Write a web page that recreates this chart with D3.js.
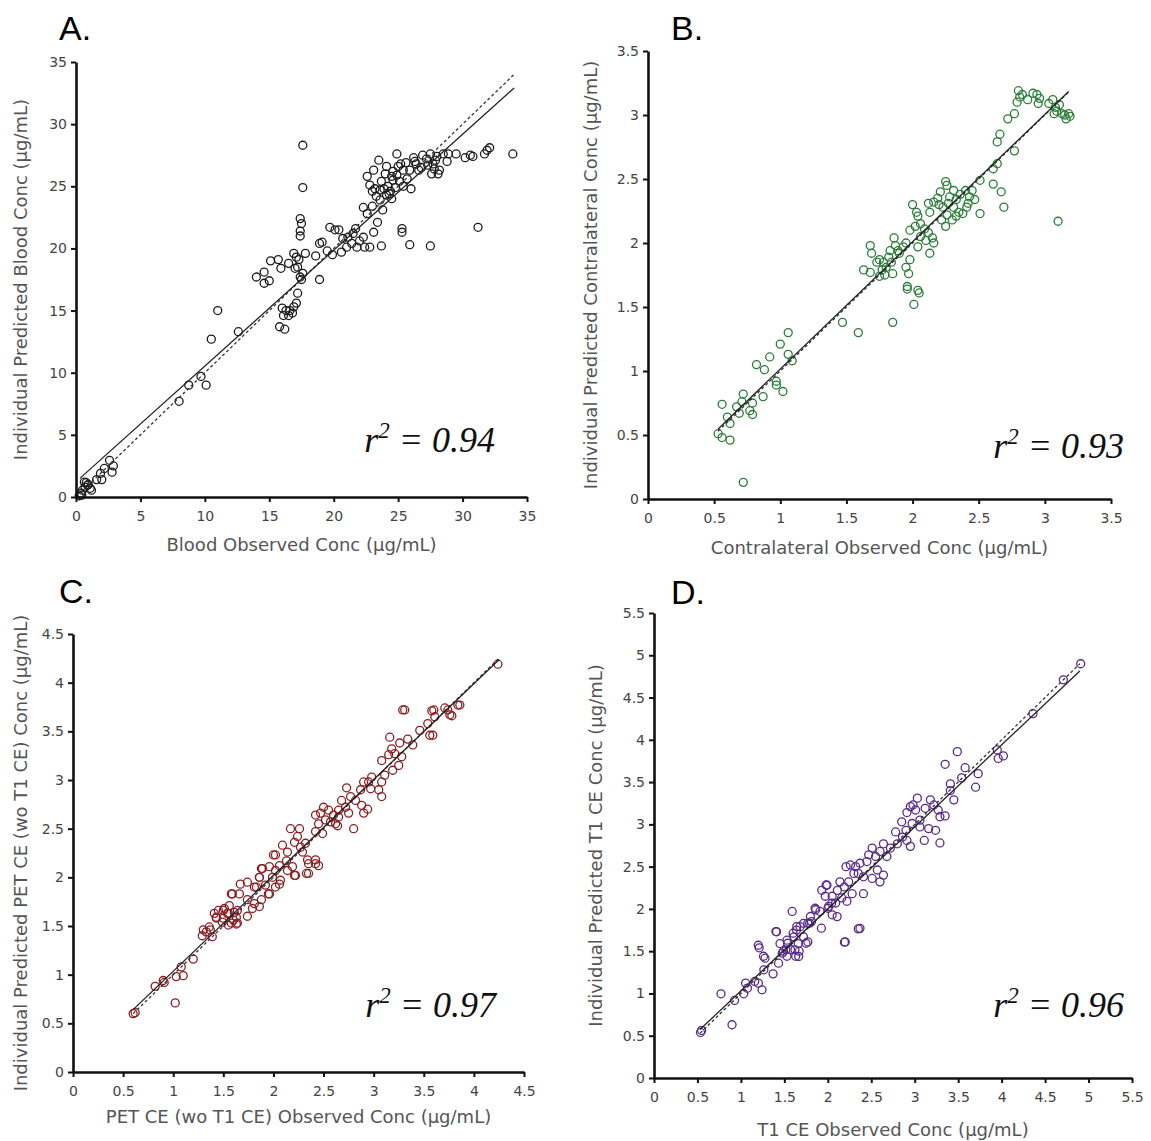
<!DOCTYPE html>
<html>
<head>
<meta charset="utf-8">
<title>Observed vs individual predicted concentrations</title>
<style>
  body { margin: 0; background: #fff; }
  .tick text { font-family: "DejaVu Sans", Verdana, sans-serif; font-size: 14px; fill: #444; }
  .axis-title { font-family: "DejaVu Sans", Verdana, sans-serif; font-size: 18px; fill: #555; }
  .panel-label { font-family: "Liberation Sans", Arial, sans-serif; font-size: 34px; fill: #000; }
  .r2 { font-family: "Liberation Serif", "Times New Roman", serif; font-style: italic; font-size: 36px; fill: #111; }
</style>
</head>
<body>
<script src="https://cdn.jsdelivr.net/npm/d3@7"></script>
<script>

// ---- data: [observed, individual predicted] ----
var bloodPts = [
  [0.25,0.1],[0.4,0.3],[0.45,0.15],[0.5,0.55],[0.65,1.2],[0.7,0.8],[0.8,1.15],[0.9,0.95],[0.95,1.0],[1.1,0.7],[1.2,0.55],
  [1.6,1.4],[2.0,1.4],[1.9,1.9],[2.2,2.3],[2.6,2.95],[2.9,2.5],[2.8,2.0],
  [8.0,7.7],[8.75,9.0],[9.7,9.7],[10.1,9.0],[10.5,12.7],[11.0,15.0],[12.6,13.3],
  [15.8,13.7],[16.2,13.5],
  [16.0,15.2],[16.3,15.0],[16.6,15.0],[16.9,15.3],[17.1,15.6],[16.1,14.6],[16.5,14.6],[16.8,14.8],[17.2,16.4],
  [14.0,17.7],[14.6,18.1],[14.6,17.2],[15.0,17.4],[15.1,19.0],[15.7,19.1],[15.9,18.4],
  [16.5,18.8],[16.9,19.6],[17.1,19.3],[17.2,18.5],[17.4,17.7],[17.5,17.5],[17.6,18.0],[17.8,19.6],[17.3,19.1],[17.0,18.4],
  [17.6,28.3],[17.6,24.9],[17.4,22.4],[17.5,22.0],[17.4,21.4],[17.4,21.0],
  [18.9,17.5],[18.6,19.4],[18.9,20.4],[19.1,20.5],[19.5,19.8],[19.9,19.5],
  [19.7,21.7],[20.1,21.5],[20.4,21.5],
  [20.6,19.7],[21.0,20.1],[21.1,20.9],[21.5,21.2],[21.7,21.6],[22.0,20.6],[22.3,20.9],[22.4,20.1],[22.8,20.1],[23.1,21.3],[20.7,20.8],[21.4,20.4],[21.8,20.1],
  [23.7,20.2],[25.9,20.3],[27.5,20.2],[25.3,21.6],[25.3,21.3],[31.2,21.7],
  [22.3,23.3],[22.6,22.8],[23.0,23.4],[23.4,22.1],[23.8,23.1],
  [23.5,27.1],[24.9,27.6],[25.2,26.8],[26.2,27.3],[22.6,25.8],[22.8,25.1],[23.0,24.6],[23.3,24.2],[23.6,23.9],[23.7,25.4],
  [24.0,26.0],[24.1,26.6],[24.2,25.0],[24.4,24.6],[24.5,24.0],[24.6,25.5],[24.9,25.9],[25.1,25.4],[25.4,25.0],[25.7,25.6],
  [25.9,26.3],[26.0,24.8],[26.4,26.8],[26.6,26.3],[23.1,26.3],[23.2,24.8],[23.6,24.7],[24.1,24.3],[24.5,25.8],[25.4,26.3],
  [24.3,24.4],[24.8,24.9],[25.0,26.6],[25.6,26.9],[26.3,27.0],[26.8,26.5],[27.3,26.7],[27.8,26.4],[24.6,26.2],[23.9,24.8],
  [26.9,27.5],[27.5,27.6],[27.7,26.8],[27.9,27.1],[28.0,27.4],[28.1,26.0],[28.2,26.3],[27.6,26.0],[28.5,27.6],[28.9,27.6],
  [28.8,27.0],[29.5,27.6],[27.2,27.2],
  [30.2,27.3],[30.6,27.5],[30.8,27.4],[31.7,27.6],[31.9,27.9],[32.1,28.1],[33.9,27.6]
];

var contraPts = [
  [2.80,3.19],[2.81,3.14],[2.83,3.16],[2.79,3.10],[2.87,3.12],[2.91,3.17],[2.94,3.16],[2.96,3.13],[2.95,3.09],[3.03,3.09],
  [3.06,3.12],[3.08,3.06],[3.09,3.03],[3.11,3.08],[3.13,3.01],[3.15,3.00],[3.16,2.97],[3.18,3.01],[3.19,2.99],[3.07,3.01],
  [2.77,3.01],[2.72,2.97],[2.66,2.85],[2.64,2.79],[2.77,2.72],[2.61,2.58],[2.64,2.62],[2.61,2.46],[2.67,2.40],[2.69,2.28],
  [3.10,2.17],[2.51,2.49],[2.51,2.23],[2.45,2.41],
  [2.25,2.48],[2.26,2.45],[2.21,2.40],[2.31,2.41],[2.36,2.38],[2.40,2.41],[2.43,2.36],[2.47,2.34],[2.16,2.32],[2.20,2.30],
  [2.23,2.28],[2.27,2.31],[2.31,2.28],[2.35,2.24],[2.38,2.23],[2.33,2.21],[2.30,2.18],[2.26,2.22],[2.22,2.18],[2.25,2.13],
  [2.33,2.34],[2.41,2.28],[2.12,2.31],[2.13,2.24],[2.42,2.31],[2.28,2.36],[2.19,2.35],
  [2.00,2.30],[2.03,2.24],[2.04,2.21],[2.06,2.15],[2.09,2.11],[2.12,2.08],[2.15,2.04],[2.16,2.00],[2.10,2.02],[2.06,2.05],
  [2.02,2.13],[2.13,1.92],[1.98,2.10],
  [1.68,1.98],[1.69,1.92],[1.75,1.87],[1.78,1.85],[1.82,1.89],[1.86,2.04],[1.87,1.98],[1.89,1.94],[1.90,1.92],[1.93,1.97],
  [1.95,2.00],[1.84,1.85],[1.80,1.81],[1.77,1.79],[1.75,1.74],[1.79,1.75],[1.85,1.76],[1.98,1.87],[1.95,1.81],[1.97,1.76],
  [1.63,1.79],[1.68,1.77],[2.04,1.97],[1.73,1.85],[1.83,1.94],
  [1.96,1.66],[2.04,1.63],
  [1.96,1.64],[2.05,1.61],[2.01,1.52],[1.85,1.38],[1.47,1.38],[1.59,1.30],[1.06,1.30],[1.00,1.21],[0.92,1.11],[1.06,1.13],
  [1.09,1.08],[0.82,1.05],[0.88,1.01],[0.97,0.92],[0.97,0.89],[1.02,0.84],[0.87,0.80],[0.79,0.75],[0.72,0.82],[0.67,0.72],
  [0.71,0.76],[0.69,0.67],[0.77,0.69],[0.79,0.66],[0.56,0.74],[0.60,0.64],[0.62,0.59],[0.53,0.51],[0.56,0.48],[0.62,0.46],
  [0.72,0.13]
];

var petPts = [
  [4.24,4.19],[3.86,3.77],[3.78,3.66],[3.74,3.72],[3.60,3.72],[3.59,3.46],[3.31,3.72],
  [3.29,3.72],[3.58,3.71],[3.71,3.74],[3.84,3.77],[3.76,3.67],[3.61,3.65],[3.54,3.58],[3.46,3.51],[3.56,3.46],
  [3.39,3.36],[3.34,3.42],[3.26,3.38],[3.16,3.44],[3.18,3.32],[3.15,3.26],[3.08,3.20],[3.21,3.27],[3.25,3.15],[3.28,3.24],
  [3.19,3.10],[3.11,3.05],[3.08,2.98],[3.05,2.90],[3.08,2.83],[2.98,3.03],[2.95,2.98],[2.90,2.98],[2.97,2.91],[2.87,2.90],
  [2.73,2.92],[2.77,2.83],[2.82,2.79],[2.88,2.74],[2.94,2.70],[2.90,2.66],[2.68,2.79],[2.72,2.72],[2.75,2.66],[2.65,2.69],
  [2.60,2.64],[2.55,2.69],[2.50,2.72],[2.47,2.66],[2.52,2.59],[2.57,2.57],[2.62,2.55],[2.65,2.62],[2.45,2.55],[2.42,2.47],
  [2.49,2.45],[2.42,2.64],[2.80,2.50],[2.64,2.53],
  [2.17,2.50],[2.26,2.50],[2.24,2.42],[2.21,2.36],[2.27,2.31],[2.32,2.35],[2.29,2.26],[2.34,2.18],[2.42,2.18],[2.45,2.12],
  [2.35,2.04],[2.22,2.02],[2.19,2.11],[2.14,2.07],[2.09,2.33],[2.14,2.26],[2.02,2.23],[2.06,2.12],[1.96,2.11],[1.99,2.00],
  [1.89,2.09],[1.86,2.00],[1.83,1.90],[1.74,1.95],[1.67,1.93],[1.92,1.92],[2.02,1.90],[2.07,1.97],[1.96,1.83],[1.88,1.77],
  [1.81,1.73],[1.74,1.77],[1.66,1.83],[1.59,1.83],[1.56,1.71],[1.51,1.68],[1.45,1.66],[1.43,1.59],[1.50,1.58],[1.55,1.63],
  [1.63,1.59],[1.64,1.53],[1.58,1.53],[1.74,1.60],[1.36,1.49],[1.86,1.70],[1.79,1.68],
  [0.62,0.61],[0.60,0.60],[0.82,0.88],[0.90,0.94],[0.91,0.92],[1.03,0.98],[1.08,1.08],[1.10,0.99],[1.20,1.16],[1.29,1.40],
  [1.33,1.44],[1.37,1.46],[1.39,1.39],[1.30,1.46],[1.41,1.63],[1.43,1.58],[1.49,1.54],[1.55,1.51],[1.50,1.66],[1.54,1.63],
  [1.58,1.83],[1.60,1.56],[1.63,1.52],[1.64,1.66],[1.61,1.64],[1.02,0.71],
  [1.88,2.09],[1.81,1.90],[1.86,2.00],[1.95,1.83],[2.00,2.23],[2.06,1.93],[2.02,2.07],[2.21,2.02],[2.33,2.04],[2.42,2.14],
  [2.13,2.17],[2.35,2.14]
];

var t1Pts = [
  [4.91,4.90],[4.71,4.71],[4.36,4.31],
  [3.49,3.86],[3.35,3.71],[3.58,3.67],[3.73,3.60],[3.70,3.44],[3.54,3.55],[3.45,3.29],[3.41,3.40],[3.41,3.48],[3.95,3.88],
  [3.96,3.78],[4.02,3.81],[3.03,3.31],[2.98,3.23],[3.01,3.17],[2.91,3.14],[2.95,3.21],[2.85,3.03],[3.06,3.05],[3.12,3.19],
  [3.18,3.29],[3.22,3.23],[3.27,3.17],[3.29,3.09],[3.35,3.10],[3.16,2.95],[3.24,2.93],[3.11,2.81],[3.29,2.78],[3.06,2.97],
  [2.97,3.01],[2.90,2.93],[2.86,2.85],[2.78,2.91],[2.80,2.77],[2.91,2.81],[2.95,2.74],[2.72,2.72],[2.64,2.77],[2.68,2.62],
  [2.60,2.68],[2.55,2.62],[2.51,2.72],[2.47,2.64],[2.45,2.56],[2.37,2.54],[2.32,2.50],[2.26,2.52],[2.21,2.50],[2.30,2.42],
  [2.35,2.42],[2.41,2.38],[2.51,2.36],[2.60,2.32],[2.64,2.40],[2.57,2.46],[2.41,2.18],[2.24,2.32],[2.19,2.26],[2.14,2.32],
  [2.11,2.22],[1.99,2.28],[1.93,2.22],[1.97,2.15],[2.05,2.15],[2.09,2.07],[2.16,2.13],[2.22,2.09],[2.28,2.18],[2.01,2.03],
  [2.05,1.93],[1.91,1.97],[1.86,1.99],[1.80,1.91],[1.79,1.83],[1.72,1.83],[1.68,1.79],[1.64,1.75],[1.61,1.67],[1.59,1.97],
  [1.72,1.67],[1.77,1.61],[1.66,1.59],[1.53,1.63],[1.45,1.59],[1.41,1.73],[1.49,1.50],[1.57,1.52],[1.67,1.50],[1.63,1.44],
  [1.53,1.44],[1.20,1.57],[1.21,1.54],[1.26,1.44],[2.20,1.61],[2.37,1.77],
  [0.535,0.539],[0.548,0.563],[0.771,0.996],[0.898,0.630],[0.927,0.917],[1.032,0.996],[1.054,1.122],[1.075,1.063],
  [1.159,1.142],[1.201,1.122],[1.277,1.417],[1.264,1.280],[1.243,1.043],[1.370,1.232],[1.403,1.732],[1.433,1.358],
  [1.475,1.476],[1.517,1.516],[1.538,1.594],[1.601,1.713],[1.643,1.791],[1.622,1.516],[1.665,1.437],[1.749,1.594],
  [1.770,1.831],[1.812,1.850],[1.854,2.008],[1.926,1.772],[2.002,2.008],[1.981,2.283],[2.044,2.067],[2.107,1.909],
  [2.191,1.606],[2.351,1.764]
];

// tick values per panel
var bloodTicks = [0, 5, 10, 15, 20, 25, 30, 35];
var contraTicks = [0, 0.5, 1, 1.5, 2, 2.5, 3, 3.5];
var petTicks = [0, 0.5, 1, 1.5, 2, 2.5, 3, 3.5, 4, 4.5];
var t1Ticks = [0, 0.5, 1, 1.5, 2, 2.5, 3, 3.5, 4, 4.5, 5, 5.5];

// regression fits [intercept, slope] and x-extent of fitted / identity lines
var bloodFit = [1.22, 0.932], bloodSpan = [0.3, 34];
var contraFit = [0.02, 0.995], contraSpan = [0.53, 3.18];
var petFit = [0.05, 0.985], petSpan = [0.6, 4.25];
var t1Fit = [0.06, 0.97], t1Span = [0.53, 4.9];

var panelLetters = ["A.", "B.", "C.", "D."];
var r2Values = ["0.94", "0.93", "0.97", "0.96"];
var xTitles = ["Blood Observed Conc (\u00b5g/mL)", "Contralateral Observed Conc (\u00b5g/mL)",
               "PET CE (wo T1 CE) Observed Conc (\u00b5g/mL)", "T1 CE Observed Conc (\u00b5g/mL)"];
var yTitles = ["Individual Predicted Blood Conc (\u00b5g/mL)", "Individual Predicted Contralateral Conc (\u00b5g/mL)",
               "Individual Predicted PET CE (wo T1 CE) Conc (\u00b5g/mL)", "Individual Predicted T1 CE Conc (\u00b5g/mL)"];
var colors = ["#1c1c1c", "#2b7d38", "#8c1f22", "#5a2a8e"];

var width = 1151,
    height = 1141;

var svg = d3.select("body").append("svg")
    .attr("width", width)
    .attr("height", height)
    .style("background", "#fff");

// pixel frames of the four panels: [x0, x1, yBottom, yTop, xTitleY, yTitleX, letterX, letterY, r2Right, r2Base]
var frames = [
  [76, 527, 497, 62, 546, 22, 59, 40, 495, 452],
  [648, 1111, 499, 51, 549, 592, 671, 40, 1124, 458],
  [73, 524, 1072, 634, 1118, 22, 59, 603, 496, 1017],
  [654, 1132, 1078, 613, 1131, 597, 671, 604, 1124, 1017]
];

var panels = [
  { pts: bloodPts, ticks: bloodTicks, fit: bloodFit, span: bloodSpan, fmt: d3.format("d") },
  { pts: contraPts, ticks: contraTicks, fit: contraFit, span: contraSpan, fmt: d3.format("~g") },
  { pts: petPts, ticks: petTicks, fit: petFit, span: petSpan, fmt: d3.format("~g") },
  { pts: t1Pts, ticks: t1Ticks, fit: t1Fit, span: t1Span, fmt: d3.format("~g") }
];

panels.forEach(function (p, i) {
    var f = frames[i];
    var max = p.ticks[p.ticks.length - 1];
    var x = d3.scaleLinear().domain([0, max]).range([f[0], f[1]]);
    var y = d3.scaleLinear().domain([0, max]).range([f[2], f[3]]);
    var g = svg.append("g");

    // points
    g.append("g")
        .selectAll("circle")
        .data(p.pts)
        .enter().append("circle")
        .attr("cx", function (d) { return x(d[0]); })
        .attr("cy", function (d) { return y(d[1]); })
        .attr("r", 4)
        .style("fill", "none")
        .style("stroke", colors[i])
        .style("stroke-width", "1.3px");

    // identity (dashed) and regression (solid)
    var line = d3.line()
        .x(function (d) { return x(d[0]); })
        .y(function (d) { return y(d[1]); });

    g.append("path")
        .datum(p.span.map(function (v) { return [v, v]; }))
        .attr("d", line)
        .style("fill", "none")
        .style("stroke", "#333")
        .style("stroke-width", "1.3px")
        .style("stroke-dasharray", "3,2.5");

    g.append("path")
        .datum(p.span.map(function (v) { return [v, p.fit[0] + p.fit[1] * v]; }))
        .attr("d", line)
        .style("fill", "none")
        .style("stroke", "#222")
        .style("stroke-width", "1.3px");

    // axes
    var xAxis = g.append("g")
        .attr("transform", "translate(0," + f[2] + ")")
        .call(d3.axisBottom(x).tickValues(p.ticks).tickFormat(p.fmt)
            .tickSize(5).tickSizeOuter(0).tickPadding(9));
    var yAxis = g.append("g")
        .attr("transform", "translate(" + f[0] + ",0)")
        .call(d3.axisLeft(y).tickValues(p.ticks).tickFormat(p.fmt)
            .tickSize(5).tickSizeOuter(0).tickPadding(4));

    [xAxis, yAxis].forEach(function (a) {
        a.select(".domain").style("stroke", "#111").style("stroke-width", "2.6px");
        a.selectAll(".tick line").style("stroke", "#111").style("stroke-width", "2px");
        a.selectAll("text").attr("fill", null);
    });

    // titles
    g.append("text")
        .attr("class", "axis-title")
        .attr("x", (f[0] + f[1]) / 2)
        .attr("y", f[4])
        .attr("text-anchor", "middle")
        .attr("dominant-baseline", "middle")
        .text(xTitles[i]);

    g.append("text")
        .attr("class", "axis-title")
        .attr("transform", "translate(" + f[5] + "," + (f[2] + f[3]) / 2 + ") rotate(-90)")
        .attr("text-anchor", "middle")
        .attr("dominant-baseline", "middle")
        .text(yTitles[i]);

    g.append("text")
        .attr("class", "panel-label")
        .attr("x", f[6])
        .attr("y", f[7])
        .text(panelLetters[i]);

    var r2 = g.append("text")
        .attr("class", "r2")
        .attr("x", f[8])
        .attr("y", f[9])
        .attr("text-anchor", "end");
    r2.append("tspan").text("r");
    r2.append("tspan").attr("dy", -14).style("font-size", "23px").text("2");
    r2.append("tspan").attr("dy", 14).text(" = " + r2Values[i]);
});

</script>
</body>
</html>
